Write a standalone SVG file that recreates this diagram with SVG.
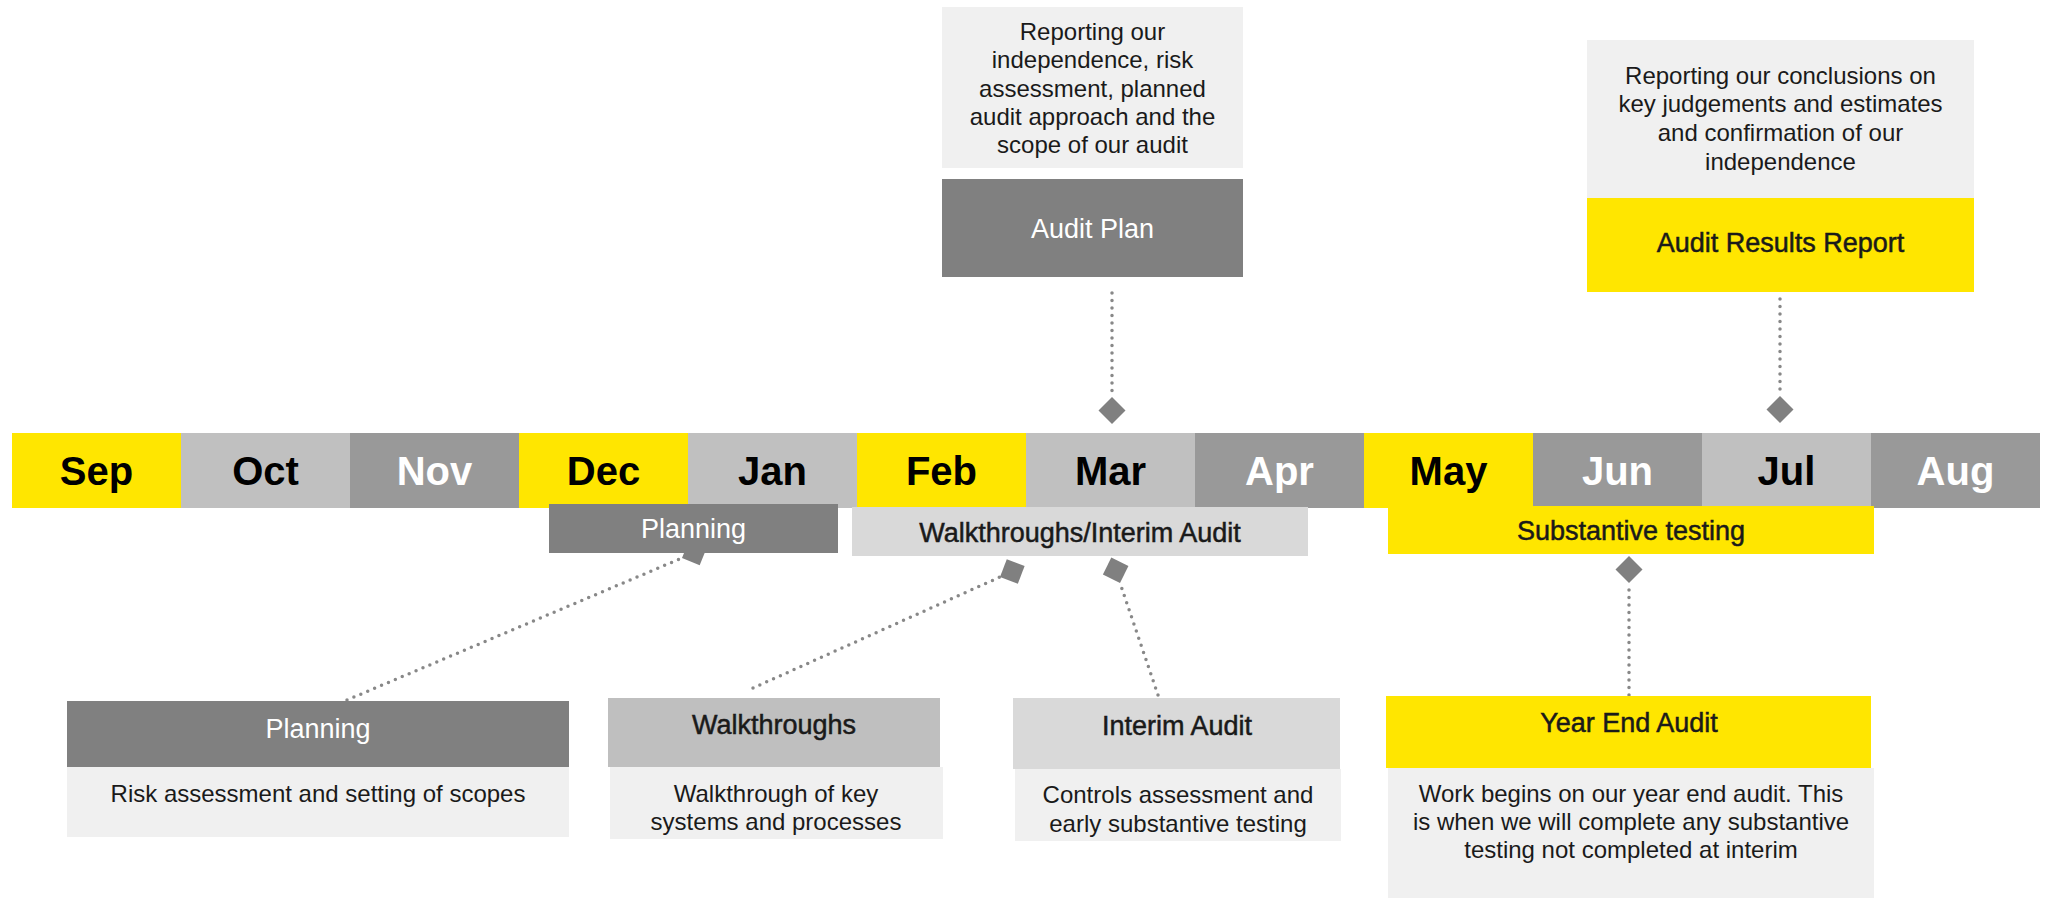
<svg xmlns="http://www.w3.org/2000/svg" width="2054" height="898" viewBox="0 0 2054 898">
<style>
text{font-family:"Liberation Sans",Arial,sans-serif;text-anchor:middle;fill:#1a1a1a}
.m{font-size:40px;font-weight:bold;fill:#000}
.m.mw{fill:#fff}
.h{font-size:27px;stroke:#1a1a1a;stroke-width:0.5}
.h.hw{fill:#fff;stroke:none}
.d{font-size:24px}
.y{fill:#FFE600}
.l{fill:#C0C0C0}
.g{fill:#999999}
.dg{fill:#808080}
.lg{fill:#D9D9D9}
.bg{fill:#F0F0F0}
.wl{fill:#BFBFBF}
.c{fill:none;stroke:#888;stroke-width:3.5;stroke-linecap:round;stroke-dasharray:0 7.5}
</style>
<defs>
<marker id="dia" markerUnits="userSpaceOnUse" markerWidth="30" markerHeight="30" refX="0" refY="0" orient="auto" viewBox="-1 -15 30 30" overflow="visible">
<path d="M0,0 L13.5,-13.5 L27,0 L13.5,13.5 Z" fill="#808080"/>
</marker>
</defs>
<rect width="2054" height="898" fill="#fff"/>
<g id="connectors">
<line class="c" x1="1112" y1="293" x2="1112" y2="397" marker-end="url(#dia)"/>
<line class="c" x1="1780" y1="299" x2="1780" y2="396" marker-end="url(#dia)"/>
<line class="c" x1="347" y1="700" x2="682" y2="558" marker-end="url(#dia)"/>
<line class="c" x1="753" y1="688" x2="1000" y2="577" marker-end="url(#dia)"/>
<line class="c" x1="1158" y1="695" x2="1120" y2="583" marker-end="url(#dia)"/>
<line class="c" x1="1629" y1="695" x2="1629" y2="583" marker-end="url(#dia)"/>
</g>
<g id="months">
<g id="m-sep"><rect class="y" x="12" y="433" width="169" height="75"/><text class="m" x="96.5" y="485">Sep</text></g>
<g id="m-oct"><rect class="l" x="181" y="433" width="169" height="75"/><text class="m" x="265.5" y="485">Oct</text></g>
<g id="m-nov"><rect class="g" x="350" y="433" width="169" height="75"/><text class="m mw" x="434.5" y="485">Nov</text></g>
<g id="m-dec"><rect class="y" x="519" y="433" width="169" height="75"/><text class="m" x="603.5" y="485">Dec</text></g>
<g id="m-jan"><rect class="l" x="688" y="433" width="169" height="75"/><text class="m" x="772.5" y="485">Jan</text></g>
<g id="m-feb"><rect class="y" x="857" y="433" width="169" height="75"/><text class="m" x="941.5" y="485">Feb</text></g>
<g id="m-mar"><rect class="l" x="1026" y="433" width="169" height="75"/><text class="m" x="1110.5" y="485">Mar</text></g>
<g id="m-apr"><rect class="g" x="1195" y="433" width="169" height="75"/><text class="m mw" x="1279.5" y="485">Apr</text></g>
<g id="m-may"><rect class="y" x="1364" y="433" width="169" height="75"/><text class="m" x="1448.5" y="485">May</text></g>
<g id="m-jun"><rect class="g" x="1533" y="433" width="169" height="75"/><text class="m mw" x="1617.5" y="485">Jun</text></g>
<g id="m-jul"><rect class="l" x="1702" y="433" width="169" height="75"/><text class="m" x="1786.5" y="485">Jul</text></g>
<g id="m-aug"><rect class="g" x="1871" y="433" width="169" height="75"/><text class="m mw" x="1955.5" y="485">Aug</text></g>
</g>
<g id="bar-planning"><rect class="dg" x="549" y="504" width="289" height="49"/><text class="h hw" x="693.5" y="538">Planning</text></g>
<g id="bar-walkthroughs"><rect class="lg" x="852" y="507" width="456" height="49"/><text class="h" x="1080" y="542">Walkthroughs/Interim Audit</text></g>
<g id="bar-substantive"><rect class="y" x="1388" y="506" width="486" height="48"/><text class="h" x="1631" y="540">Substantive testing</text></g>
<g id="audit-plan">
<rect class="bg" x="942" y="7" width="301" height="161"/>
<text class="d" x="1092.5" y="40">Reporting our</text>
<text class="d" x="1092.5" y="68">independence, risk</text>
<text class="d" x="1092.5" y="97">assessment, planned</text>
<text class="d" x="1092.5" y="125">audit approach and the</text>
<text class="d" x="1092.5" y="153">scope of our audit</text>
<rect class="dg" x="942" y="179" width="301" height="98"/>
<text class="h hw" x="1092.5" y="238">Audit Plan</text>
</g>
<g id="audit-results">
<rect class="bg" x="1587" y="40" width="387" height="158"/>
<text class="d" x="1780.5" y="84">Reporting our conclusions on</text>
<text class="d" x="1780.5" y="112">key judgements and estimates</text>
<text class="d" x="1780.5" y="141">and confirmation of our</text>
<text class="d" x="1780.5" y="170">independence</text>
<rect class="y" x="1587" y="198" width="387" height="94"/>
<text class="h" x="1780.5" y="252">Audit Results Report</text>
</g>
<g id="planning">
<rect class="dg" x="67" y="701" width="502" height="66"/>
<text class="h hw" x="318" y="738">Planning</text>
<rect class="bg" x="67" y="767" width="502" height="70"/>
<text class="d" x="318" y="802">Risk assessment and setting of scopes</text>
</g>
<g id="walkthroughs">
<rect class="wl" x="608" y="698" width="332" height="69"/>
<text class="h" x="774" y="734">Walkthroughs</text>
<rect class="bg" x="610" y="767" width="333" height="72"/>
<text class="d" x="776" y="802">Walkthrough of key</text>
<text class="d" x="776" y="830">systems and processes</text>
</g>
<g id="interim-audit">
<rect class="lg" x="1013" y="698" width="327" height="71"/>
<text class="h" x="1177" y="735">Interim Audit</text>
<rect class="bg" x="1015" y="769" width="326" height="72"/>
<text class="d" x="1178" y="803">Controls assessment and</text>
<text class="d" x="1178" y="832">early substantive testing</text>
</g>
<g id="year-end-audit">
<rect class="y" x="1386" y="696" width="485" height="72"/>
<text class="h" x="1629" y="732">Year End Audit</text>
<rect class="bg" x="1388" y="768" width="486" height="130"/>
<text class="d" x="1631" y="802">Work begins on our year end audit. This</text>
<text class="d" x="1631" y="830">is when we will complete any substantive</text>
<text class="d" x="1631" y="858">testing not completed at interim</text>
</g>
</svg>
